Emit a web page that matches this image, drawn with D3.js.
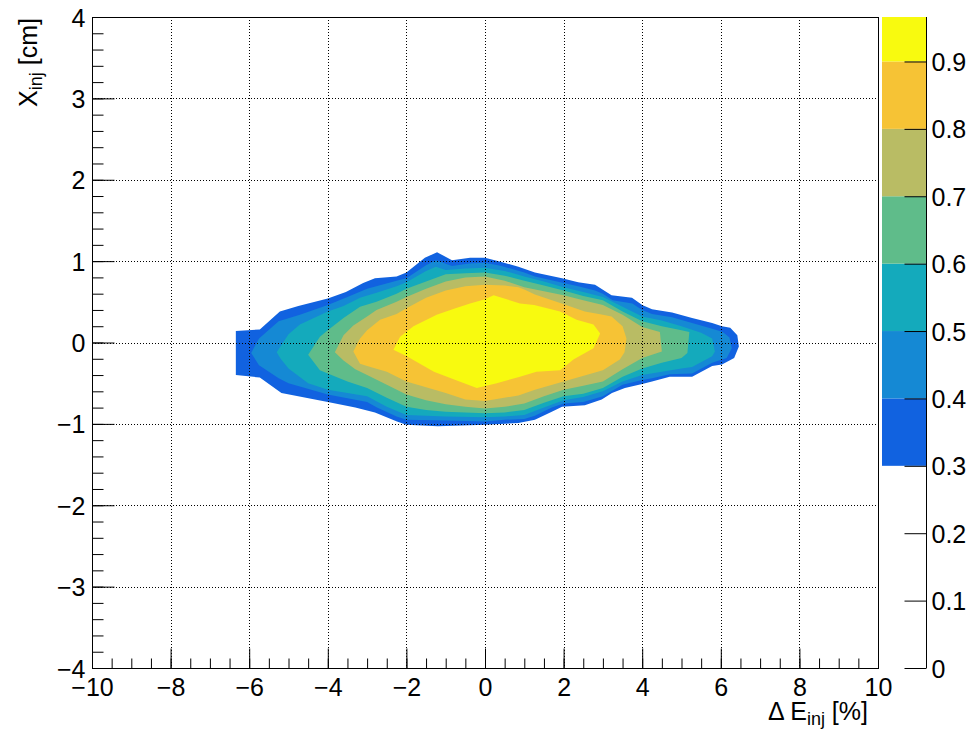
<!DOCTYPE html>
<html>
<head>
<meta charset="utf-8">
<script src="https://cdn.jsdelivr.net/npm/d3@7"></script>
<style>
body { margin: 0; background: #fff; }
svg { display: block; }
text { font-family: "Liberation Sans", Arial, sans-serif; fill: #000; }
</style>
</head>
<body>
<svg id="chart" width="970" height="729"></svg>
<script>
// Contour levels and palette
var levels = [0.3, 0.4, 0.5, 0.6, 0.7, 0.8, 0.9];
var zMax = 0.966;
var bandColors = ["#1162e0", "#1589d4", "#14aabc", "#5fbc8a", "#b9bc64", "#f6c335", "#f8fa0f"];

// Tick values
var xMajor = [-10, -8, -6, -4, -2, 0, 2, 4, 6, 8, 10];
var yMajor = [-4, -3, -2, -1, 0, 1, 2, 3, 4];
var zTicks = [0, 0.1, 0.2, 0.3, 0.4, 0.5, 0.6, 0.7, 0.8, 0.9];

// Contour boundaries: [dE (%), X (cm)]
var c30 = [[-6.34,0.14],[-5.73,0.16],[-5.22,0.38],[-4.75,0.45],[-4.0,0.54],[-3.54,0.62],[-3.1,0.73],[-2.8,0.79],[-2.25,0.81],[-2.0,0.86],[-1.53,1.04],[-1.22,1.11],[-0.84,1.01],[-0.38,1.04],[0,1.04],[0.42,0.99],[0.85,0.93],[1.27,0.86],[1.96,0.79],[2.37,0.74],[2.8,0.71],[3.22,0.58],[3.74,0.55],[4.0,0.46],[4.25,0.41],[4.76,0.37],[5.27,0.30],[5.78,0.24],[6.03,0.20],[6.24,0.18],[6.42,0.09],[6.46,-0.05],[6.34,-0.19],[6.03,-0.27],[5.78,-0.29],[5.27,-0.42],[4.7,-0.42],[4.25,-0.48],[4.0,-0.51],[3.56,-0.56],[3.23,-0.62],[2.97,-0.70],[2.54,-0.77],[1.96,-0.79],[1.7,-0.85],[1.27,-0.95],[0.85,-0.99],[0,-1.01],[-1.2,-1.03],[-2.0,-1.01],[-2.24,-0.97],[-2.8,-0.86],[-3.3,-0.80],[-4.0,-0.73],[-5.18,-0.62],[-5.73,-0.43],[-6.34,-0.40]];
var c40 = [[-5.95,-0.13],[-5.75,0.05],[-5.25,0.26],[-4.71,0.34],[-4.0,0.46],[-3.5,0.56],[-3.0,0.66],[-2.25,0.76],[-2.0,0.79],[-1.5,0.95],[-1.25,1.01],[-0.84,0.94],[-0.4,0.97],[0,0.98],[0.42,0.94],[1.0,0.86],[1.27,0.81],[2.0,0.73],[2.37,0.69],[2.8,0.64],[3.0,0.60],[3.25,0.52],[3.75,0.48],[4.0,0.40],[4.25,0.35],[4.76,0.31],[5.27,0.24],[5.78,0.17],[6.05,0.13],[6.22,0.06],[6.28,-0.07],[6.15,-0.19],[5.78,-0.25],[5.27,-0.38],[4.7,-0.39],[4.25,-0.44],[4.0,-0.46],[3.5,-0.52],[3.0,-0.66],[2.5,-0.73],[2.0,-0.75],[1.7,-0.80],[1.27,-0.90],[1.0,-0.94],[0.5,-0.95],[0,-0.97],[-1.0,-0.96],[-2.0,-0.95],[-2.25,-0.91],[-2.75,-0.80],[-3.0,-0.73],[-4.0,-0.64],[-5.0,-0.50],[-5.25,-0.44],[-5.75,-0.28]];
var c50 = [[-5.3,-0.12],[-5.0,0.10],[-4.71,0.22],[-4.0,0.38],[-3.6,0.45],[-3.18,0.55],[-2.76,0.61],[-2.25,0.69],[-2.0,0.74],[-1.5,0.88],[-1.25,0.93],[-1.0,0.89],[-0.5,0.91],[0,0.92],[0.5,0.88],[1.0,0.81],[1.5,0.75],[2.0,0.68],[2.5,0.62],[3.0,0.56],[3.5,0.44],[4.0,0.32],[4.5,0.27],[5.0,0.20],[5.5,0.12],[5.78,0.05],[5.85,-0.11],[5.78,-0.17],[5.27,-0.30],[5.0,-0.32],[4.5,-0.36],[4.0,-0.40],[3.5,-0.48],[3.0,-0.60],[2.5,-0.67],[2.0,-0.71],[1.5,-0.80],[1.0,-0.89],[0.5,-0.91],[0,-0.92],[-1.0,-0.91],[-2.0,-0.89],[-2.5,-0.79],[-3.0,-0.66],[-3.5,-0.62],[-4.0,-0.58],[-4.5,-0.50],[-5.0,-0.32],[-5.2,-0.2]];
var c60 = [[-4.5,-0.15],[-4.2,0.07],[-4.0,0.15],[-3.6,0.30],[-3.18,0.44],[-2.76,0.50],[-2.25,0.60],[-2.0,0.66],[-1.5,0.75],[-1.0,0.84],[-0.5,0.85],[0,0.86],[0.5,0.82],[1.0,0.76],[1.5,0.70],[2.0,0.64],[2.5,0.57],[3.0,0.52],[3.5,0.38],[4.0,0.26],[4.5,0.20],[5.0,0.15],[5.2,0.13],[5.15,-0.13],[5.0,-0.19],[4.5,-0.25],[4.0,-0.32],[3.5,-0.42],[3.0,-0.56],[2.5,-0.63],[2.0,-0.66],[1.5,-0.74],[1.0,-0.83],[0.5,-0.86],[0,-0.87],[-0.5,-0.86],[-1.0,-0.85],[-1.5,-0.83],[-2.0,-0.79],[-2.5,-0.68],[-3.0,-0.56],[-3.5,-0.48],[-4.0,-0.38],[-4.2,-0.34]];
var c70 = [[-3.82,-0.12],[-3.6,0.09],[-3.35,0.21],[-3.0,0.32],[-2.76,0.40],[-2.25,0.50],[-2.0,0.56],[-1.5,0.66],[-1.0,0.75],[-0.5,0.80],[0,0.81],[0.5,0.76],[1.0,0.68],[1.5,0.63],[2.0,0.58],[2.5,0.52],[3.0,0.46],[3.5,0.34],[4.0,0.19],[4.45,0.13],[4.5,-0.11],[4.0,-0.19],[3.5,-0.33],[3.0,-0.48],[2.5,-0.53],[2.0,-0.58],[1.5,-0.66],[1.0,-0.75],[0.5,-0.79],[0,-0.81],[-0.5,-0.79],[-1.0,-0.76],[-1.5,-0.71],[-2.0,-0.64],[-2.5,-0.52],[-3.0,-0.40],[-3.3,-0.33],[-3.6,-0.22]];
var c80 = [[-3.35,-0.11],[-3.18,0.05],[-3.0,0.15],[-2.67,0.28],[-2.25,0.35],[-2.0,0.42],[-1.5,0.55],[-1.0,0.64],[-0.5,0.69],[0,0.71],[0.5,0.70],[0.85,0.68],[1.0,0.65],[1.27,0.59],[1.95,0.48],[2.54,0.38],[3.0,0.34],[3.22,0.32],[3.5,0.2],[3.6,0.05],[3.55,-0.12],[3.43,-0.21],[3.0,-0.34],[2.8,-0.37],[2.0,-0.48],[1.27,-0.58],[0.85,-0.65],[0,-0.72],[-0.5,-0.70],[-1.0,-0.62],[-1.5,-0.55],[-2.0,-0.48],[-2.5,-0.36],[-3.0,-0.29],[-3.18,-0.26]];
var c90 = [[-2.33,-0.09],[-2.16,0.07],[-1.82,0.20],[-1.23,0.34],[-0.75,0.42],[-0.38,0.48],[0,0.53],[0.22,0.58],[0.89,0.48],[1.25,0.46],[1.91,0.38],[2.33,0.28],[2.76,0.22],[2.93,0.11],[2.76,-0.07],[2.25,-0.21],[1.91,-0.34],[1.31,-0.36],[0.89,-0.42],[0.30,-0.50],[-0.21,-0.56],[-0.75,-0.46],[-1.3,-0.36],[-1.99,-0.17]];
var contours = [c30, c40, c50, c60, c70, c80, c90];

var svg = d3.select("#chart");
var frameL = 92, frameR = 878, frameT = 17, frameB = 668;
var palLeft = 882, palRight = 926;

var x = d3.scaleLinear().domain([-10, 10]).range([frameL, frameR]);
var y = d3.scaleLinear().domain([-4, 4]).range([frameB, frameT]);
var z = d3.scaleLinear().domain([0, zMax]).range([frameB, frameT]);
var fmt = d3.format("");

// Filled contours, lowest level first
var line = d3.line()
    .x(function(d) { return x(d[0]); })
    .y(function(d) { return y(d[1]); });
svg.append("g").selectAll("path")
    .data(contours)
    .enter().append("path")
    .attr("d", function(d) { return line(d) + "Z"; })
    .attr("fill", function(d, i) { return bandColors[i]; });

// Dotted grid on top of the contours
var grid = svg.append("g").attr("stroke", "#000").attr("stroke-width", 1).attr("stroke-dasharray", "1,2");
grid.selectAll(".gx").data(xMajor.slice(1, -1)).enter().append("line")
    .attr("x1", function(d) { return Math.round(x(d)) + 0.5; })
    .attr("x2", function(d) { return Math.round(x(d)) + 0.5; })
    .attr("y1", frameT).attr("y2", frameB);
grid.selectAll(".gy").data(yMajor.slice(1, -1)).enter().append("line")
    .attr("y1", function(d) { return Math.round(y(d)) + 0.5; })
    .attr("y2", function(d) { return Math.round(y(d)) + 0.5; })
    .attr("x1", frameL).attr("x2", frameR);

// Frame
svg.append("rect")
    .attr("x", frameL + 0.5).attr("y", frameT + 0.5)
    .attr("width", frameR - frameL).attr("height", frameB - frameT)
    .attr("fill", "none").attr("stroke", "#000");

// X axis: inward ticks
svg.append("g").attr("transform", "translate(0," + (frameB + 0.5) + ")")
    .call(d3.axisBottom(x).tickValues(xMajor).tickSize(-20).tickPadding(10).tickFormat(fmt));
svg.append("g").attr("transform", "translate(0," + (frameB + 0.5) + ")")
    .call(d3.axisBottom(x).tickValues(d3.range(-10, 10.01, 0.5)).tickSize(-10).tickFormat(""));

// Y axis
var yAxis = svg.append("g").attr("transform", "translate(" + (frameL + 0.5) + ",0)")
    .call(d3.axisLeft(y).tickValues(yMajor).tickSize(-22).tickPadding(7).tickFormat(fmt));
svg.append("g").attr("transform", "translate(" + (frameL + 0.5) + ",0)")
    .call(d3.axisLeft(y).tickValues(d3.range(-4, 4.01, 0.2)).tickSize(-11).tickFormat(""));

svg.selectAll(".domain").remove();
svg.selectAll(".tick line").attr("stroke", "#000");
svg.selectAll(".tick text").attr("font-size", 25).attr("font-family", "Liberation Sans, Arial, sans-serif").attr("fill", "#000");
yAxis.selectAll(".tick text").attr("dy", "0.36em");

// Palette
var bandTops = levels.slice(1).concat([zMax]);
svg.append("g").selectAll("rect")
    .data(levels)
    .enter().append("rect")
    .attr("x", palLeft)
    .attr("width", palRight - palLeft)
    .attr("y", function(d, i) { return z(bandTops[i]); })
    .attr("height", function(d, i) { return z(d) - z(bandTops[i]); })
    .attr("fill", function(d, i) { return bandColors[i]; });
var zAxis = svg.append("g").attr("transform", "translate(" + (palRight + 0.5) + ",0)")
    .call(d3.axisRight(z).tickValues(zTicks).tickSize(-22).tickPadding(5).tickFormat(d3.format("")));
zAxis.select(".domain").attr("d", "M0," + frameT + "V" + frameB).attr("stroke", "#000").attr("fill", "none");
zAxis.selectAll(".tick line").attr("stroke", "#000");
zAxis.selectAll(".tick text").attr("font-size", 25).attr("fill", "#000").attr("dy", "0.36em");

// Axis titles
var xt = svg.append("text").attr("x", 868).attr("y", 720).attr("text-anchor", "end").attr("font-size", 25);
xt.append("tspan").text("\u0394 E");
xt.append("tspan").attr("font-size", 18).attr("dy", 5).text("inj");
xt.append("tspan").attr("dy", -5).text(" [%]");

var yt = svg.append("text").attr("transform", "translate(37,18) rotate(-90)").attr("text-anchor", "end").attr("font-size", 25);
yt.append("tspan").text("X");
yt.append("tspan").attr("font-size", 18).attr("dy", 5).text("inj");
yt.append("tspan").attr("dy", -5).text(" [cm]");
</script>
</body>
</html>
